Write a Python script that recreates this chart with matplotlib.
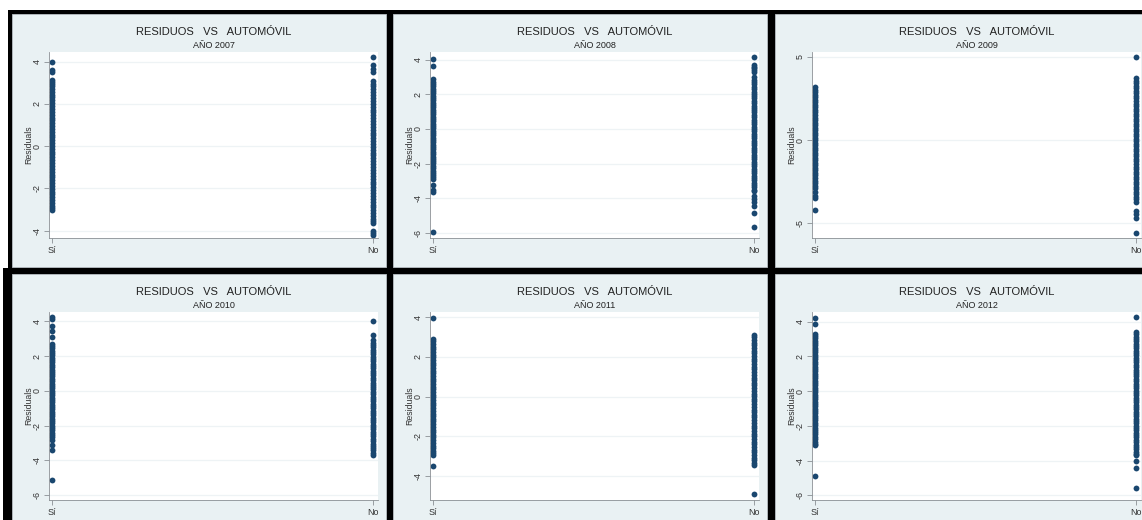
import matplotlib.pyplot as plt
from matplotlib.patches import Rectangle

plt.rcParams['font.family'] = ['Liberation Sans', 'DejaVu Sans']

# residuos del modelo por grupo (tiene automóvil: Sí / No) y año
res_si_2007 = [3.97, 3.6, 3.5, 3.12, 3.03, 2.95, 2.83, 2.7, 2.56, 2.44, 2.31, 2.17, 2.02, 1.9,
               1.76, 1.63, 1.49, 1.35, 1.22, 1.08, 0.95, 0.81, 0.68, 0.54, 0.41, 0.27, 0.14,
               0.01, -0.12, -0.26, -0.39, -0.53, -0.66, -0.8, -0.93, -1.07, -1.2, -1.34,
               -1.47, -1.61, -1.74, -1.88, -2.01, -2.15, -2.28, -2.42, -2.55, -2.69, -2.82,
               -2.93, -3.02]
res_no_2007 = [4.2, 3.85, 3.65, 3.5, 3.08, 2.96, 2.82, 2.69, 2.55, 2.41, 2.28, 2.14, 2.0, 1.87,
               1.73, 1.6, 1.46, 1.32, 1.19, 1.05, 0.92, 0.78, 0.64, 0.51, 0.37, 0.24, 0.1,
               -0.04, -0.17, -0.31, -0.44, -0.58, -0.72, -0.85, -0.99, -1.12, -1.26, -1.4,
               -1.53, -1.67, -1.8, -1.94, -2.08, -2.21, -2.35, -2.48, -2.62, -2.76, -2.89,
               -3.03, -3.16, -3.3, -3.42, -3.56, -3.64, -4.0, -4.1, -4.2]

res_si_2008 = [4.04, 3.66, 2.86, 2.73, 2.6, 2.46, 2.33, 2.19, 2.06, 1.92, 1.79, 1.65, 1.52, 1.38,
               1.25, 1.11, 0.98, 0.84, 0.71, 0.57, 0.44, 0.3, 0.17, 0.03, -0.1, -0.24, -0.37,
               -0.51, -0.64, -0.78, -0.91, -1.05, -1.18, -1.32, -1.45, -1.59, -1.72, -1.86,
               -1.99, -2.13, -2.26, -2.4, -2.52, -2.66, -2.78, -2.9, -3.22, -3.5, -3.62, -5.94]
res_no_2008 = [4.15, 3.71, 3.6, 3.5, 3.4, 3.3, 2.97, 2.84, 2.7, 2.57, 2.43, 2.3, 2.16, 2.03,
               1.89, 1.76, 1.62, 1.49, 1.35, 1.22, 1.08, 0.95, 0.81, 0.68, 0.54, 0.41, 0.27,
               0.14, 0.0, -0.13, -0.27, -0.4, -0.54, -0.67, -0.81, -0.94, -1.08, -1.21, -1.35,
               -1.48, -1.62, -1.75, -1.89, -2.02, -2.16, -2.29, -2.43, -2.56, -2.7, -2.83,
               -2.97, -3.1, -3.24, -3.37, -3.5, -3.58, -3.85, -4.04, -4.23, -4.42, -4.86, -5.66]

res_si_2009 = [3.18, 3.02, 2.88, 2.73, 2.58, 2.43, 2.27, 2.12, 1.97, 1.82, 1.67, 1.52, 1.36, 1.21,
               1.06, 0.91, 0.76, 0.61, 0.45, 0.3, 0.15, 0.0, -0.15, -0.3, -0.45, -0.61, -0.76,
               -0.91, -1.06, -1.21, -1.36, -1.52, -1.67, -1.82, -1.97, -2.12, -2.27, -2.43,
               -2.58, -2.74, -2.85, -3.14, -3.34, -3.5, -4.17]
res_no_2009 = [4.97, 3.72, 3.57, 3.42, 3.27, 3.11, 2.96, 2.81, 2.66, 2.51, 2.36, 2.2, 2.05, 1.9,
               1.75, 1.6, 1.45, 1.29, 1.14, 0.99, 0.84, 0.69, 0.54, 0.38, 0.23, 0.08, -0.07,
               -0.22, -0.37, -0.53, -0.68, -0.83, -0.98, -1.13, -1.28, -1.44, -1.59, -1.74,
               -1.89, -2.04, -2.19, -2.35, -2.5, -2.65, -2.8, -2.95, -3.1, -3.26, -3.41, -3.56,
               -3.74, -4.23, -4.43, -4.67, -5.57]

res_si_2010 = [4.25, 4.15, 3.72, 3.43, 3.1, 2.72, 2.58, 2.45, 2.31, 2.18, 2.04, 1.91, 1.77, 1.64,
               1.5, 1.37, 1.23, 1.1, 0.96, 0.83, 0.69, 0.56, 0.42, 0.29, 0.15, 0.02, -0.12,
               -0.25, -0.39, -0.52, -0.66, -0.79, -0.93, -1.06, -1.2, -1.33, -1.47, -1.6, -1.74,
               -1.87, -2.01, -2.14, -2.28, -2.41, -2.55, -2.66, -2.8, -3.12, -3.41, -5.13]
res_no_2010 = [4.02, 3.2, 2.91, 2.78, 2.64, 2.51, 2.37, 2.24, 2.1, 1.97, 1.83, 1.7, 1.56, 1.43,
               1.29, 1.16, 1.02, 0.89, 0.75, 0.62, 0.48, 0.35, 0.21, 0.08, -0.06, -0.19, -0.33,
               -0.46, -0.6, -0.73, -0.87, -1.0, -1.14, -1.27, -1.41, -1.54, -1.68, -1.81, -1.95,
               -2.08, -2.22, -2.35, -2.49, -2.62, -2.76, -2.89, -3.03, -3.16, -3.3, -3.43,
               -3.57, -3.7]

res_si_2011 = [3.97, 2.92, 2.79, 2.65, 2.52, 2.38, 2.25, 2.11, 1.98, 1.84, 1.71, 1.57, 1.44, 1.3,
               1.17, 1.03, 0.9, 0.76, 0.63, 0.49, 0.36, 0.22, 0.09, -0.05, -0.18, -0.32, -0.45,
               -0.59, -0.72, -0.86, -0.99, -1.13, -1.26, -1.4, -1.53, -1.67, -1.8, -1.94, -2.07,
               -2.21, -2.34, -2.48, -2.61, -2.75, -2.87, -2.95, -3.51]
res_no_2011 = [3.12, 2.99, 2.85, 2.72, 2.58, 2.45, 2.31, 2.18, 2.04, 1.91, 1.77, 1.64, 1.5, 1.37,
               1.23, 1.1, 0.96, 0.83, 0.69, 0.56, 0.42, 0.29, 0.15, 0.02, -0.12, -0.25, -0.39,
               -0.52, -0.66, -0.79, -0.93, -1.06, -1.2, -1.33, -1.47, -1.6, -1.74, -1.87, -2.01,
               -2.14, -2.28, -2.41, -2.55, -2.68, -2.82, -2.95, -3.09, -3.22, -3.36, -3.46, -4.95]

res_si_2012 = [4.21, 3.89, 3.31, 3.18, 3.04, 2.91, 2.77, 2.64, 2.5, 2.37, 2.23, 2.1, 1.96, 1.83,
               1.69, 1.56, 1.42, 1.29, 1.15, 1.02, 0.88, 0.75, 0.61, 0.48, 0.34, 0.21, 0.07,
               -0.06, -0.2, -0.33, -0.47, -0.6, -0.74, -0.87, -1.01, -1.14, -1.28, -1.41, -1.55,
               -1.68, -1.82, -1.95, -2.09, -2.22, -2.36, -2.49, -2.63, -2.76, -2.9, -3.03,
               -3.12, -4.88]
res_no_2012 = [4.27, 3.41, 3.28, 3.14, 3.01, 2.87, 2.74, 2.6, 2.47, 2.33, 2.2, 2.06, 1.93, 1.79,
               1.66, 1.52, 1.39, 1.25, 1.12, 0.98, 0.85, 0.71, 0.58, 0.44, 0.31, 0.17, 0.04,
               -0.1, -0.23, -0.37, -0.5, -0.64, -0.77, -0.91, -1.04, -1.18, -1.31, -1.45, -1.58,
               -1.72, -1.85, -1.99, -2.12, -2.26, -2.39, -2.53, -2.66, -2.8, -2.93, -3.07, -3.2,
               -3.34, -3.47, -3.61, -3.68, -4.0, -4.44, -5.59]

years = [2007, 2008, 2009, 2010, 2011, 2012]
res_si = [res_si_2007, res_si_2008, res_si_2009, res_si_2010, res_si_2011, res_si_2012]
res_no = [res_no_2007, res_no_2008, res_no_2009, res_no_2010, res_no_2011, res_no_2012]
grupos = ['Sí', 'No']

# escala y marcas del eje Y de cada gráfico
ylims = [(-4.34, 4.45), (-6.29, 4.44), (-5.88, 5.3), (-6.28, 4.54), (-5.23, 4.27), (-6.26, 4.56)]
yticks = [[-4, -2, 0, 2, 4], [-6, -4, -2, 0, 2, 4], [-5, 0, 5],
          [-6, -4, -2, 0, 2, 4], [-4, -2, 0, 2, 4], [-6, -4, -2, 0, 2, 4]]

W, H = 1142, 520
fig = plt.figure(figsize=(W / 100, H / 100), dpi=100)
fig.patch.set_facecolor('white')


def rect_px(x0, y0, x1, y1, **kw):
    fig.patches.append(Rectangle((x0 / W, 1 - y1 / H), (x1 - x0) / W, (y1 - y0) / H,
                                 transform=fig.transFigure, figure=fig, **kw))


# marcos negros del gráfico combinado
rect_px(8, 10, 1160, 270, facecolor='black', edgecolor='none', zorder=-3)
rect_px(3, 268, 1160, 540, facecolor='black', edgecolor='none', zorder=-3)

panel_x = [12, 393, 775]
panel_y = [(14, 267), (274, 530)]
plot_y = [(52, 238), (312, 500)]
title_y = [(32, 46), (292, 305)]

bg = '#E9F1F3'
azul = '#1A476F'
gris = '#8A8F94'

for i, year in enumerate(years):
    fila, col = divmod(i, 3)
    px0 = panel_x[col]
    py0, py1 = panel_y[fila]
    rect_px(px0, py0, px0 + 374, py1, facecolor=bg, edgecolor='#B9BFC4', lw=0.6, zorder=-2)

    left = px0 + 37
    top, bottom = plot_y[fila]
    ax = fig.add_axes([left / W, 1 - bottom / H, 329 / W, (bottom - top) / H])
    ax.set_zorder(2)
    ax.set_facecolor('white')

    ax.plot([0] * len(res_si[i]), res_si[i], 'o', color=azul, ms=4.2, mec=azul, mew=0)
    ax.plot([1] * len(res_no[i]), res_no[i], 'o', color=azul, ms=4.2, mec=azul, mew=0)

    ax.set_xlim(-0.0093, 1.0156)
    ax.set_ylim(*ylims[i])
    ax.set_xticks([0, 1])
    ax.set_xticklabels(grupos)
    ax.set_yticks(yticks[i])
    ax.set_yticklabels([str(t) for t in yticks[i]], rotation=90, va='center')
    ax.grid(axis='y', color='#EEF3F5', lw=0.9)
    ax.set_axisbelow(True)
    for s in ['top', 'right']:
        ax.spines[s].set_visible(False)
    for s in ['left', 'bottom']:
        ax.spines[s].set_color(gris)
        ax.spines[s].set_linewidth(0.6)
    ax.tick_params(axis='both', length=3.5, width=0.6, color=gris, labelsize=6.4,
                   labelcolor='#333333')
    ax.tick_params(axis='y', pad=2)
    ax.tick_params(axis='x', pad=2.5)
    ax.set_ylabel('Residuals', fontsize=6.3, color='#333333', labelpad=-0.5)

    cx = (left + left + 329) / 2 / W
    ty, sy = title_y[fila]
    fig.text(cx, 1 - ty / H, 'RESIDUOS   VS   AUTOMÓVIL', ha='center', va='center',
             fontsize=8, color='#222222')
    fig.text(cx, 1 - sy / H, f'AÑO {year}', ha='center', va='center',
             fontsize=6.5, color='#222222')

fig.savefig('out.png', dpi=100)
